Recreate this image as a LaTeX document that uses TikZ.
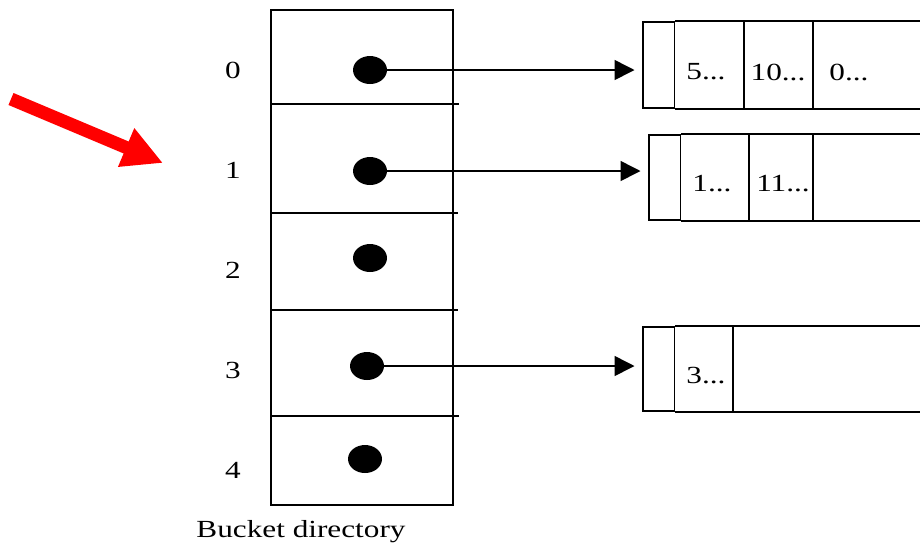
\documentclass[tikz,border=0pt]{standalone}
\usepackage{fontspec}
\setmainfont[FakeStretch=1.27]{Liberation Serif}
\usetikzlibrary{arrows.meta, shapes.geometric}

\begin{document}
\begin{tikzpicture}[x=0.02cm, y=-0.02cm, line width=1pt,
    txt/.style = {font=\fontsize{14}{17}\selectfont, inner sep=0pt},
    slot/.style = {ellipse, fill=black, minimum width=0.68cm, minimum height=0.56cm, inner sep=0pt},
    headcell/.style = {draw, anchor=north west, minimum width=0.63cm, inner sep=0pt},
    ptr/.style = {-{Triangle[length=0.4cm, width=0.4cm]}, line width=0.9pt, shorten >=0.15cm},
    hint/.style = {-{Triangle[length=0.8cm, width=0.78cm]}, red, line width=0.26cm}]
    \useasboundingbox (0,0) rectangle (920,556);
    \coordinate (edge) at (920,0);

    % bucket directory
    \draw (271,10) rectangle (453,505);
    \foreach \y/\len in {104/459, 213/458, 310/458, 416/459}
        \draw (271,\y) -- (\len,\y);
    \foreach \n/\x/\y in {0/370/70, 1/370/171, 2/370/258, 3/367/366, 4/365/459}
    {
        \node[txt] (num\n) at (233,{70+100*\n}) {\n};
        \node[slot] (dot\n) at (\x,\y) {};
    }
    \node[txt] (title) at (301,532) {Bucket directory};

    % buckets
    \node[headcell, minimum height=1.72cm] (b0) at (642,21) {};
    \node[headcell, minimum height=1.70cm] (b1) at (648,134) {};
    \node[headcell, minimum height=1.68cm] (b3) at (642,326) {};
    \foreach \b in {b0,b1,b3}
        \draw (\b.north east) -- (\b.north east -| edge)
              (\b.south east) -- (\b.south east -| edge);
    \foreach \b/\x in {b0/744, b0/813, b1/749, b1/813, b3/733}
        \draw (\x,0 |- \b.north) -- (\x,0 |- \b.south);

    \node[txt] (k5) at (706,72) {5...};
    \node[txt] (k10) at (778,72) {10...};
    \node[txt] (k0) at (849,72) {0...};
    \node[txt] (k1) at (712,184) {1...};
    \node[txt] (k11) at (783,184) {11...};
    \node[txt] (k3) at (706,376) {3...};

    % pointers
    \foreach \n/\b in {0/b0, 1/b1, 3/b3}
        \draw[ptr] (dot\n.center) -- (dot\n -| \b.west);

    % red marker
    \coordinate (tail) at (11,99);
    \coordinate (tip) at (163,163);
    \draw[hint] (tail) -- (tip);
\end{tikzpicture}
\end{document}
